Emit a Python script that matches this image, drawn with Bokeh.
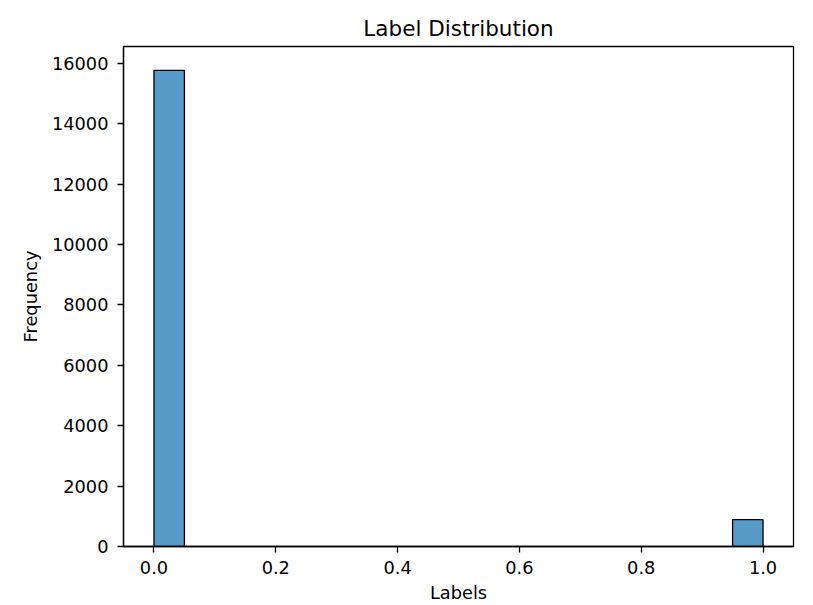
from bokeh.plotting import figure
from bokeh.models import Range1d, FixedTicker, NumeralTickFormatter, ColumnDataSource
from bokeh.embed import file_html
from bokeh.resources import INLINE

# Histogram data (20 bins over [0, 1])
bin_edges = [i / 20 for i in range(21)]
counts = [15770, 0, 0, 0, 0, 0, 0, 0, 0, 0, 0, 0, 0, 0, 0, 0, 0, 0, 0, 890]
y_ticks = [0, 2000, 4000, 6000, 8000, 10000, 12000, 14000, 16000]
x_ticks = [0.0, 0.2, 0.4, 0.6, 0.8, 1.0]

left = [bin_edges[i] for i in range(20) if counts[i] > 0]
right = [bin_edges[i + 1] for i in range(20) if counts[i] > 0]
top = [c for c in counts if c > 0]
src = ColumnDataSource(dict(left=left, right=right, top=top, bottom=[0] * len(top)))

FONT = "DejaVu Sans"

p = figure(width=805, height=605, output_backend="svg", toolbar_location=None,
           title="Label Distribution",
           x_range=Range1d(-0.05, 1.05), y_range=Range1d(0, max(counts) * 1.05),
           min_border_left=123, min_border_right=12, min_border_top=46, min_border_bottom=59)

p.quad(left="left", right="right", top="top", bottom="bottom", source=src,
       fill_color="#1f77b4", fill_alpha=0.75, line_color="black", line_width=1.3)

p.grid.visible = False
p.outline_line_color = "black"
p.outline_line_width = 1.3
p.background_fill_color = "white"
p.border_fill_color = "white"

p.title.align = "center"
p.title.text_font = FONT
p.title.text_font_size = "21.5px"
p.title.text_font_style = "normal"
p.title.text_color = "black"
p.title.standoff = 11

p.xaxis.ticker = FixedTicker(ticks=x_ticks)
p.xaxis.formatter = NumeralTickFormatter(format="0.0")
p.yaxis.ticker = FixedTicker(ticks=y_ticks)
p.xaxis.axis_label = "Labels"
p.yaxis.axis_label = "Frequency"

for ax in (p.xaxis, p.yaxis):
    ax.major_label_text_font = FONT
    ax.major_label_text_font_size = "17.8px"
    ax.major_label_text_color = "black"
    ax.axis_label_text_font = FONT
    ax.axis_label_text_font_size = "17.8px"
    ax.axis_label_text_font_style = "normal"
    ax.axis_label_text_color = "black"
    ax.major_tick_out = 6
    ax.major_tick_in = 0
    ax.minor_tick_out = 0
    ax.minor_tick_in = 0
    ax.axis_line_color = "black"
    ax.axis_line_width = 1.3
    ax.major_tick_line_color = "black"
    ax.major_tick_line_width = 1.3
    ax.major_label_standoff = 9

p.xaxis.major_label_standoff = 8
p.xaxis.axis_label_standoff = 5
p.yaxis.axis_label_standoff = 8

open("out.html", "w").write(file_html(p, INLINE))
